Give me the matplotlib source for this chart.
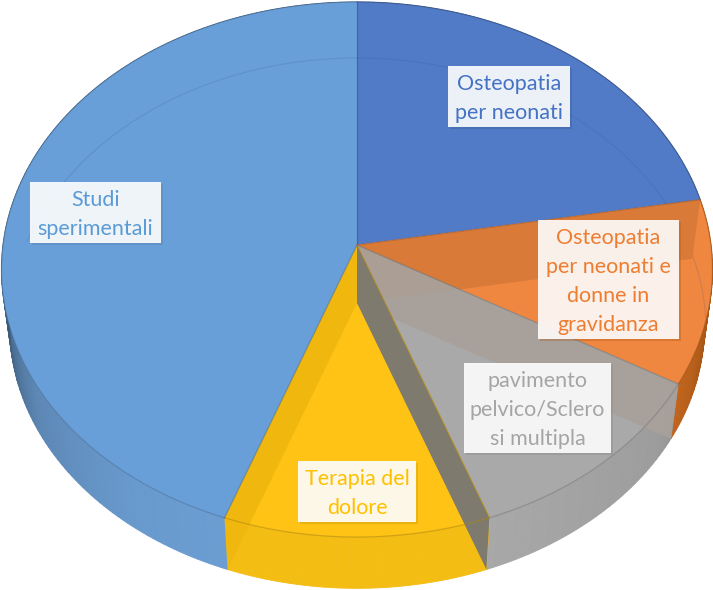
import numpy as np
import matplotlib
matplotlib.use('Agg')
import matplotlib.pyplot as plt
from matplotlib.patches import Polygon, Rectangle, Arc
from matplotlib.colors import to_rgb

categories = ['Osteopatia\nper neonati', 'Osteopatia\nper neonati e\ndonne in\ngravidanza',
              'pavimento\npelvico/Sclero\nsi multipla', 'Terapia del\ndolore', 'Studi\nsperimentali']
values = [2, 1, 1, 1, 4]
top_colors = ['#527bc7', '#ef8740', '#a9a9a9', '#fec314', '#689fd9']
side_colors = ['#4a70b5', '#d9701f', '#a8a8a8', '#f4bd14', '#6b9dd2']
text_colors = ['#4472c4', '#ed7d31', '#a5a5a5', '#ffc000', '#5b9bd5']
wall_colors = ['#527bc7', '#d97a38', '#a8a19b', '#f0b70e', '#689fd9']

# label boxes in pixels: left, top, right, bottom
label_boxes = [(448, 66, 570, 127), (538, 220, 679, 339), (464, 363, 611, 453), (298, 461, 416, 522), (30, 182, 161, 243)]

# projection of the tilted disc to the picture
cx, cy = 357, 245
rx, ry, persp = 354, 265.3, 0.0916
depth, shrink = 58, 0.977


def top_xy(angle, r=1.0):
    a = np.radians(angle)
    u = r * np.sin(a)
    v = -r * np.cos(a)
    w = 1 - persp * v
    return cx + rx * u / w, cy + ry * v / w


def bottom_xy(angle, r=1.0):
    x, y = top_xy(angle, r)
    return cx + (x - cx) * shrink, cy + depth + (y - cy) * shrink


def side_shade(angle):
    # the rim gets darker towards the far left and right
    return np.interp(angle, [100, 118, 125, 160, 200, 215, 240, 262, 275], [0.75, 0.88, 0.93, 1.0, 1.0, 0.98, 0.86, 0.58, 0.45])


edges = 360 * np.cumsum([0] + values) / sum(values)

fig = plt.figure(figsize=(7.13, 5.9), dpi=100)
ax = fig.add_axes([0, 0, 1, 1])
ax.set_xlim(0, 713)
ax.set_ylim(590, 0)
ax.axis('off')

# side of the disc
for i in range(len(values)):
    base = np.array(to_rgb(side_colors[i]))
    steps = np.arange(edges[i], edges[i + 1], 1.0)
    for a in steps:
        b = min(a + 1.0, edges[i + 1])
        shade = np.clip(base * side_shade(a), 0, 1)
        pts = [top_xy(a), top_xy(b), bottom_xy(b), bottom_xy(a)]
        ax.add_patch(Polygon(pts, closed=True, fc=shade, ec=shade, lw=0.6, zorder=1))

# top of the disc
for i in range(len(values)):
    arc = np.linspace(edges[i], edges[i + 1], 120)
    x, y = top_xy(arc)
    pts = np.column_stack([np.r_[cx, x], np.r_[cy, y]])
    ax.add_patch(Polygon(pts, closed=True, fc=top_colors[i], ec='none', zorder=3))

# faint back rim seen through the top
ax.add_patch(Arc((357, 330), 698, 544, theta1=195, theta2=358, color='#28508c', lw=0.8, alpha=0.17, zorder=4))

# inner walls seen through the slices
for angle, color, alpha in [(edges[1], wall_colors[1], 1.0), (edges[2], wall_colors[2], 0.95),
                            (edges[3], '#7e7a6e', 1.0), (edges[4], wall_colors[3], 1.0)]:
    pts = [(cx, cy), top_xy(angle), bottom_xy(angle), bottom_xy(angle, 0)]
    ax.add_patch(Polygon(pts, closed=True, fc=color, ec='none', alpha=alpha, zorder=5))

# rim and slice borders
for i in range(len(values)):
    arc = np.linspace(edges[i], edges[i + 1], 120)
    x, y = top_xy(arc)
    ax.plot(x, y, color=np.array(to_rgb(side_colors[i])) * 0.72, lw=0.9, alpha=0.55, zorder=6)
    ex, ey = top_xy(edges[i])
    ax.plot([cx, ex], [cy, ey], color=np.array(to_rgb(top_colors[i])) * 0.7, lw=0.9, alpha=0.6, zorder=6)

# labels in white boxes
for name, box, color, shade in zip(categories, label_boxes, text_colors, side_colors):
    left, top, right, bottom = box
    ax.add_patch(Rectangle((left + 2, top + 2), right - left, bottom - top, fc=np.array(to_rgb(shade)) * 0.8, ec='none', alpha=0.35, zorder=7))
    ax.add_patch(Rectangle((left, top), right - left, bottom - top, fc='white', ec='none', alpha=0.9, zorder=8))
    ax.text((left + right) / 2, (top + bottom) / 2 + 2, name, color=color, family='Lato', fontsize=15.5,
            ha='center', va='center', linespacing=1.56, zorder=9)

fig.savefig('out.png', dpi=100)
